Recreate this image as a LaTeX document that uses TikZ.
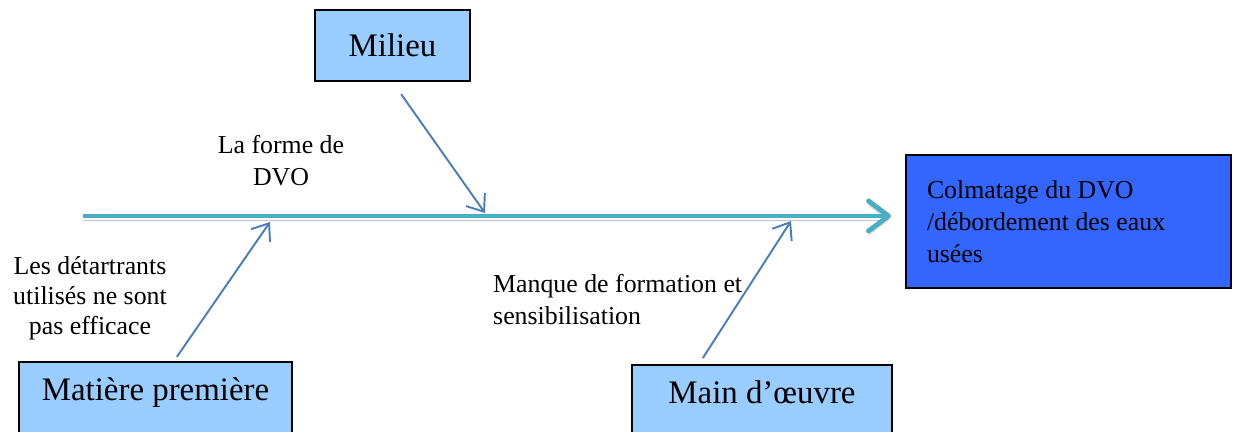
\documentclass[tikz,border=0pt]{standalone}
\usepackage{fontspec}
\setmainfont{Liberation Serif}
\usepackage{xcolor}
\usetikzlibrary{arrows.meta, positioning, shadows}

\definecolor{causefill}{HTML}{99CCFF}
\definecolor{effectfill}{HTML}{3366FF}
\definecolor{spinecol}{HTML}{4BACC6}
\definecolor{branchcol}{HTML}{4A7EBB}

\begin{document}
\begin{tikzpicture}[
    % Styles
    causebox/.style={rectangle, draw=black, line width=1pt, fill=causefill, font=\fontsize{18.7}{22}\selectfont},
    lowbox/.style={causebox, anchor=north, inner ysep=0pt, text height=0.77cm, text depth=0.8cm},
    effectbox/.style={rectangle, draw=black, line width=1pt, fill=effectfill, minimum width=6.5cm, minimum height=2.66cm, text width=5.66cm, align=flush left, font=\fontsize{14.7}{18.2}\selectfont},
    note/.style={font=\fontsize{14.7}{18.2}\selectfont},
    spine/.style={-{Straight Barb[length=4mm, width=6mm, round]}, line width=2.8pt, color=spinecol, preaction={draw=black!22, transform canvas={yshift=-0.08cm}}},
    branch/.style={-{Straight Barb[length=3mm, width=4.6mm]}, line width=1.1pt, color=branchcol}
]
\useasboundingbox (0,0) rectangle (24.74,-8.64);

% Main spine
\coordinate (tail) at (1.66,-4.32);
\coordinate (head) at (17.82,-4.32);
\draw[spine] (tail) -- (head);

% Effect
\node[effectbox] (effect) at (21.37,-4.43) {Colmatage du DVO\\/débordement des eaux\\usées};

% Causes
\node[causebox, minimum width=3.1cm, minimum height=1.42cm] (milieu) at (7.85,-0.91) {Milieu};
\node[lowbox, minimum width=5.46cm] (matiere) at (3.11,-7.22) {Matière première};
\node[lowbox, minimum width=5.2cm] (mainoeuvre) at (15.24,-7.28) {Main d’œuvre};

% Branches onto the spine
\coordinate (m1) at (9.70,-4.26);
\coordinate (m2) at (5.40,-4.44);
\coordinate (m3) at (15.82,-4.42);
\draw[branch, shorten <=0.3cm] (milieu.south) -- (m1);
\draw[branch, shorten <=0.1cm] ([xshift=0.37cm]matiere.north) -- (m2);
\draw[branch, shorten <=0.14cm] ([xshift=-1.26cm]mainoeuvre.north) -- (m3);

% Sub-causes
\node[note, align=center] (forme) at (5.62,-3.22) {La forme de\\DVO};
\node[note, align=center, font=\fontsize{14.7}{17}\selectfont] (detartrant) at (1.8,-5.96) {Les détartrants\\utilisés ne sont\\pas efficace};
\node[note, align=left, anchor=west] (formation) at (9.74,-6.0) {Manque de formation et\\sensibilisation};

\end{tikzpicture}
\end{document}
